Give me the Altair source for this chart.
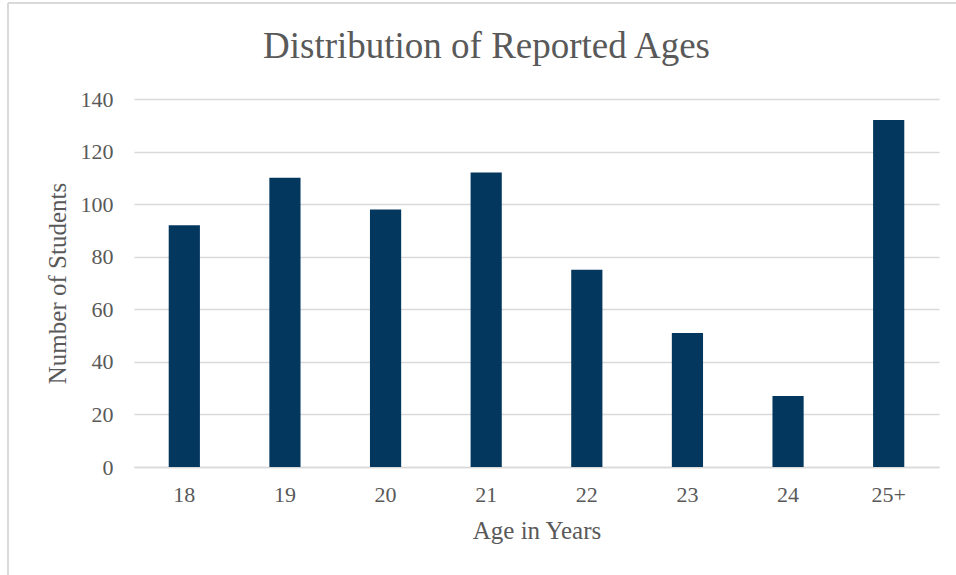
import altair as alt
import pandas as pd

# Reported age groups and head counts
ages = ["18", "19", "20", "21", "22", "23", "24", "25+"]
students = [92, 110, 98, 112, 75, 51, 27, 132]

y_ticks = [0, 20, 40, 60, 80, 100, 120, 140]

FONT = "Liberation Serif"
TEXT = "#595959"
GRID = "#d9d9d9"
BAR = "#04375E"

df = pd.DataFrame({"age": ages, "count": students})

bars = alt.Chart(df).mark_bar(color=BAR).encode(
    x=alt.X(
        "age:N",
        sort=ages,
        title="Age in Years",
        scale=alt.Scale(paddingInner=0.69, paddingOuter=0.345),
        axis=alt.Axis(
            labelAngle=0,
            ticks=False,
            domain=True,
            domainColor=GRID,
            domainWidth=1.6,
            labelPadding=17,
            titlePadding=13,
        ),
    ),
    y=alt.Y(
        "count:Q",
        title="Number of Students",
        scale=alt.Scale(domain=[0, 140], nice=False),
        axis=alt.Axis(
            values=y_ticks,
            ticks=False,
            domain=False,
            grid=True,
            gridColor=GRID,
            gridWidth=1.3,
            labelPadding=21,
            titlePadding=10,
        ),
    ),
)

# Thin frame around the whole chart (left and top edges)
frame_src = pd.DataFrame({"k": [0]})
left_edge = alt.Chart(frame_src).mark_rule(color=GRID, strokeWidth=2).encode(
    x=alt.value(-126), y=alt.value(-96), y2=alt.value(480)
)
top_edge = alt.Chart(frame_src).mark_rule(color=GRID, strokeWidth=2).encode(
    x=alt.value(-126), x2=alt.value(830), y=alt.value(-96)
)

chart = (
    alt.layer(bars, left_edge, top_edge)
    .properties(
        width=805,
        height=368,
        title=alt.TitleParams(
            "Distribution of Reported Ages",
            font=FONT,
            fontSize=37,
            fontWeight="normal",
            color=TEXT,
            anchor="middle",
            dx=-50,
            offset=-64,
        ),
        autosize=alt.AutoSizeParams(type="none"),
        padding={"left": 134, "top": 99, "right": 17, "bottom": 108},
        background="white",
    )
    .configure_view(stroke=None)
    .configure_axis(
        labelFont=FONT,
        titleFont=FONT,
        labelFontSize=22,
        titleFontSize=25,
        labelColor=TEXT,
        titleColor=TEXT,
        titleFontWeight="normal",
    )
)

chart.save("out.html", embed_options={"renderer": "svg", "actions": False})
